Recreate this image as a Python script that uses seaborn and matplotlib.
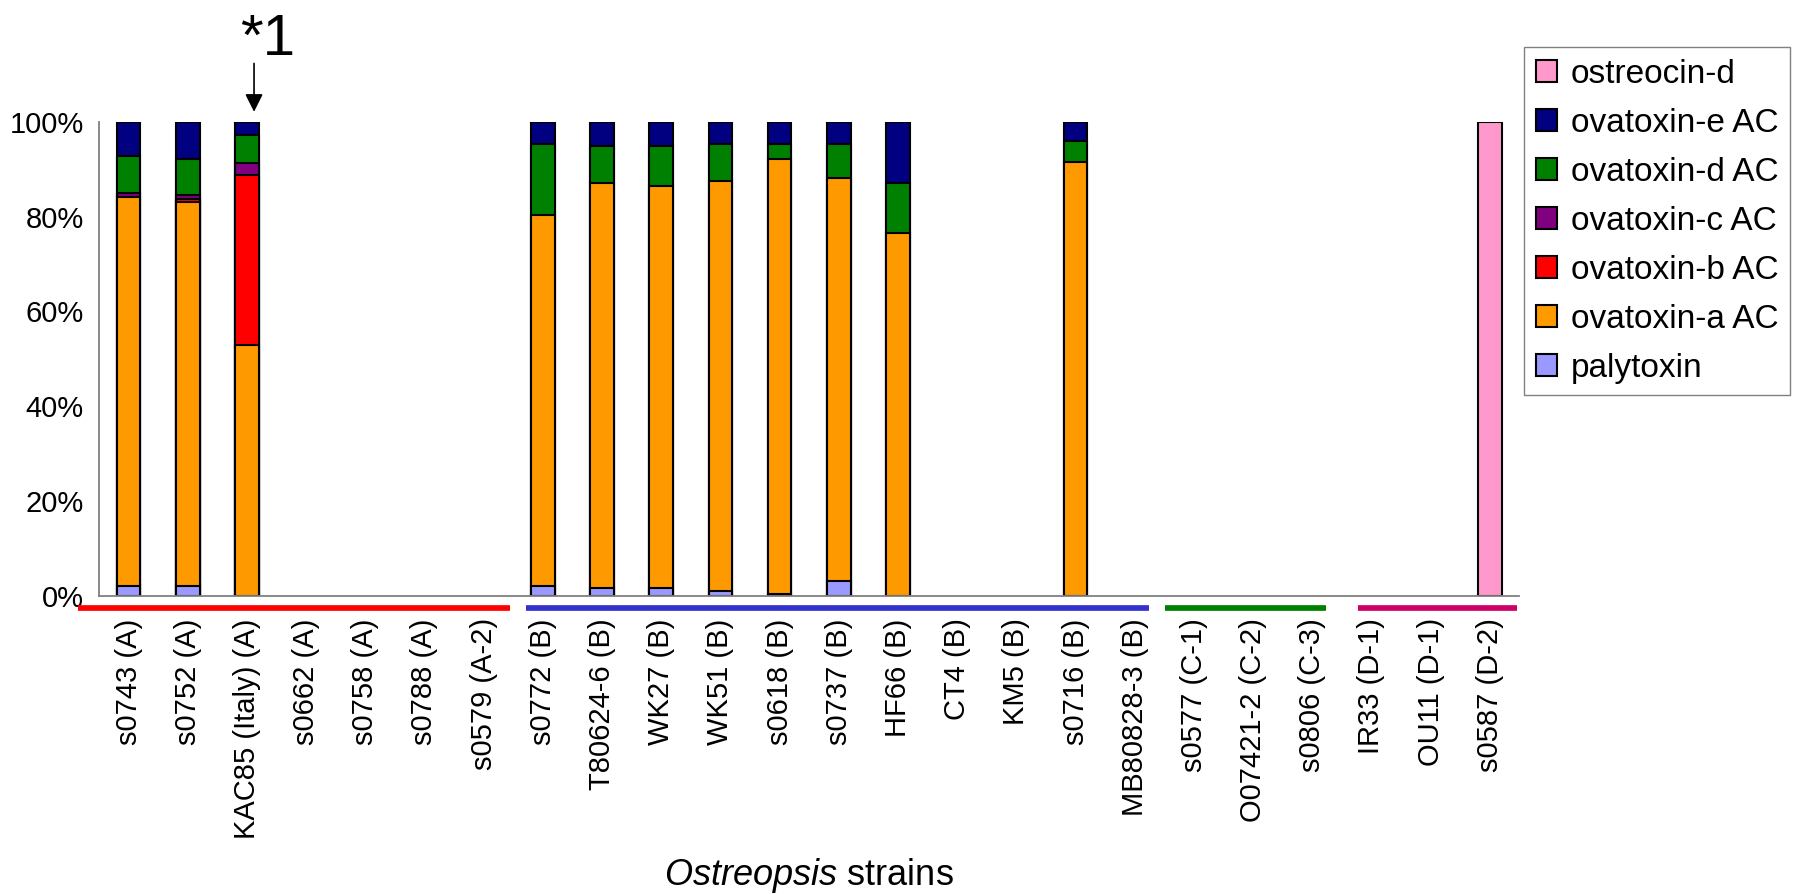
"""
Toxin composition (%) of Ostreopsis strains, stacked bars drawn with seaborn.
"""
import matplotlib
matplotlib.use("Agg")
import matplotlib.pyplot as plt
from matplotlib.patches import Patch
import numpy as np
import pandas as pd
import seaborn as sns

# ── Data ──────────────────────────────────────────────────────────────────────
strains = [
    "s0743 (A)", "s0752 (A)", "KAC85 (Italy) (A)", "s0662 (A)", "s0758 (A)",
    "s0788 (A)", "s0579 (A-2)",
    "s0772 (B)", "T80624-6 (B)", "WK27 (B)", "WK51 (B)", "s0618 (B)",
    "s0737 (B)", "HF66 (B)", "CT4 (B)", "KM5 (B)", "s0716 (B)", "MB80828-3 (B)",
    "s0577 (C-1)", "O07421-2 (C-2)", "s0806 (C-3)",
    "IR33 (D-1)", "OU11 (D-1)", "s0587 (D-2)",
]

# percent of total, bottom of the stack first
palytoxin   = [2.1, 2.1, 0, 0, 0, 0, 0, 2.2, 1.6, 1.6, 1.0, 0.4, 3.2, 0, 0, 0, 0, 0, 0, 0, 0, 0, 0, 0]
ovatoxin_a  = [82.1, 81.0, 53.0, 0, 0, 0, 0, 78.2, 85.4, 84.8, 86.6, 91.7, 84.9, 76.5, 0, 0, 91.6, 0, 0, 0, 0, 0, 0, 0]
ovatoxin_b  = [0, 0.7, 35.8, 0, 0, 0, 0, 0, 0, 0, 0, 0, 0, 0, 0, 0, 0, 0, 0, 0, 0, 0, 0, 0]
ovatoxin_c  = [0.7, 0.8, 2.4, 0, 0, 0, 0, 0, 0, 0, 0, 0, 0, 0, 0, 0, 0, 0, 0, 0, 0, 0, 0, 0]
ovatoxin_d  = [7.9, 7.5, 6.0, 0, 0, 0, 0, 14.9, 7.8, 8.4, 7.7, 3.2, 7.2, 10.5, 0, 0, 4.4, 0, 0, 0, 0, 0, 0, 0]
ovatoxin_e  = [7.2, 7.9, 2.8, 0, 0, 0, 0, 4.7, 5.2, 5.2, 4.7, 4.7, 4.7, 13.0, 0, 0, 4.0, 0, 0, 0, 0, 0, 0, 0]
ostreocin_d = [0, 0, 0, 0, 0, 0, 0, 0, 0, 0, 0, 0, 0, 0, 0, 0, 0, 0, 0, 0, 0, 0, 0, 100]

layer_names = ["palytoxin", "ovatoxin-a AC", "ovatoxin-b AC", "ovatoxin-c AC",
               "ovatoxin-d AC", "ovatoxin-e AC", "ostreocin-d"]
layer_colors = ["#9999FF", "#FF9900", "#FF0000", "#800080",
                "#008000", "#000080", "#FF99CC"]

# group underlines below the axis: (start, end) in category units
group_spans  = [(-0.85, 6.44), (6.71, 17.25), (17.52, 20.23), (20.77, 23.46)]
group_colors = ["#FF0000", "#3333CC", "#008000", "#CC0066"]

yticks = [0, 20, 40, 60, 80, 100]

# ── Build frame ───────────────────────────────────────────────────────────────
df = pd.DataFrame({
    "strain": strains,
    "palytoxin": palytoxin,
    "ovatoxin-a AC": ovatoxin_a,
    "ovatoxin-b AC": ovatoxin_b,
    "ovatoxin-c AC": ovatoxin_c,
    "ovatoxin-d AC": ovatoxin_d,
    "ovatoxin-e AC": ovatoxin_e,
    "ostreocin-d": ostreocin_d,
})
cum = df[layer_names].cumsum(axis=1)

# ── Style ─────────────────────────────────────────────────────────────────────
sns.set_theme(style="white")
plt.rcParams["font.family"] = ["Liberation Sans", "DejaVu Sans"]
plt.rcParams["mathtext.fontset"] = "custom"
plt.rcParams["mathtext.rm"] = "Liberation Sans"
plt.rcParams["mathtext.it"] = "Liberation Sans:italic"
plt.rcParams["text.color"] = "black"
plt.rcParams["axes.labelcolor"] = "black"

fig = plt.figure(figsize=(18.06, 8.94), dpi=100)
ax = fig.add_axes([0.0548, 0.3333, 0.7865, 0.5305])

# stacked bars: draw cumulative totals from the top layer down
for name, color in zip(reversed(layer_names), reversed(layer_colors)):
    sub = pd.DataFrame({"strain": strains, "top": cum[name]})[df[name] > 0]
    sns.barplot(data=sub, x="strain", y="top", order=strains, color=color,
                saturation=1, width=0.4, edgecolor="black", linewidth=1.5,
                errorbar=None, ax=ax)

ax.set_xlim(-0.5, len(strains) - 0.5)
ax.set_ylim(0, 100)
ax.set_yticks(yticks)
ax.set_yticklabels([f"{v}%" for v in yticks])
ax.set_ylabel("")

ax.set_xticks(range(len(strains)))
ax.set_xticklabels(strains, rotation=90)
ax.set_xticks(np.arange(-0.5, len(strains), 1), minor=True)

ax.tick_params(axis="y", direction="in", length=5.4, width=1, color="#808080",
               labelsize=21, labelcolor="black", pad=11)
ax.tick_params(axis="x", which="major", length=0, labelsize=21,
               labelcolor="black", pad=16)
ax.tick_params(axis="x", which="minor", direction="in", length=5.5, width=1,
               color="#808080")

sns.despine(ax=ax)
for side in ("left", "bottom"):
    ax.spines[side].set_color("#808080")
    ax.spines[side].set_linewidth(1.3)

# group underlines
for (x0, x1), c in zip(group_spans, group_colors):
    ax.plot([x0, x1], [-0.0253, -0.0253], transform=ax.get_xaxis_transform(),
            color=c, lw=4.1, solid_capstyle="butt", clip_on=False)

# *1 marker over KAC85
ax.annotate("", xy=(2.12, 102.1), xytext=(2.12, 112.3),
            arrowprops=dict(arrowstyle="-|>", color="black", lw=1.2,
                            mutation_scale=27, shrinkA=0, shrinkB=0),
            annotation_clip=False)
ax.text(2.35, 114.1, "*1", fontsize=42, ha="center", va="baseline")

ax.set_xlabel(r"$\mathit{Ostreopsis}$ strains", fontsize=26)
ax.xaxis.set_label_coords(0.5, -0.548)

handles = [Patch(facecolor=c, edgecolor="black", linewidth=1.5)
           for c in reversed(layer_colors)]
leg = fig.legend(handles, list(reversed(layer_names)), loc="upper left",
                 bbox_to_anchor=(1524 / 1806, 1 - 47 / 894), frameon=True,
                 fancybox=False, edgecolor="#808080", framealpha=1,
                 fontsize=24, handlelength=0.65, handleheight=0.65,
                 handletextpad=0.41, labelspacing=0.54, borderpad=0.35,
                 borderaxespad=0)
leg.get_frame().set_linewidth(1.0)

fig.savefig("out.png", dpi=100)
